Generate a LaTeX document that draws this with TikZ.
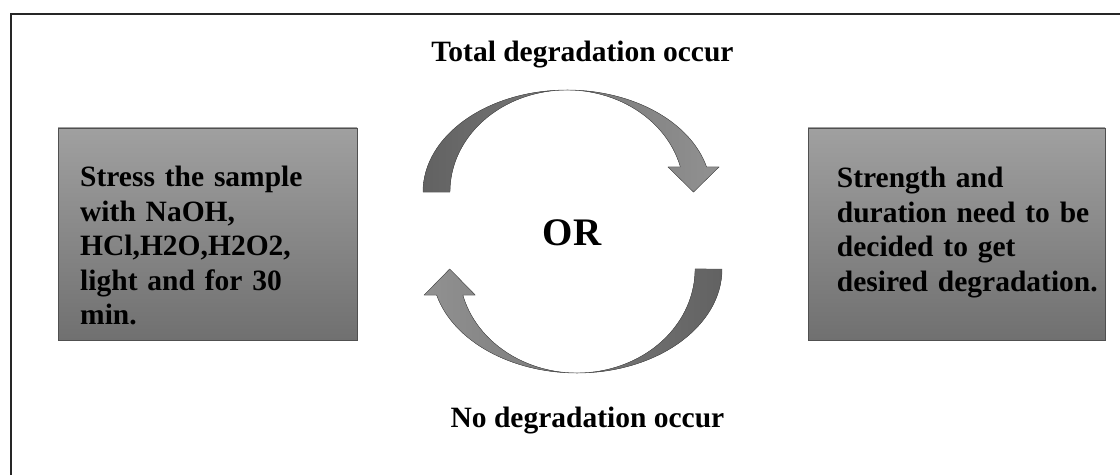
\documentclass[tikz,border=0pt]{standalone}
\usepackage{fontspec}
\setmainfont{Liberation Serif}
\usepackage{xcolor}
\usepackage{tikz}
\definecolor{boxtop}{RGB}{160,160,160}
\definecolor{boxbot}{RGB}{112,112,112}
\definecolor{arrdark}{RGB}{98,98,98}
\definecolor{arrlight}{RGB}{145,145,145}
\definecolor{edgegray}{RGB}{80,80,80}

\begin{document}
\begin{tikzpicture}[x=1pt,y=1pt,
  grbox/.style={draw=edgegray,line width=0.8pt,top color=boxtop,bottom color=boxbot,inner sep=0pt},
  boxtext/.style={anchor=base west,align=left,inner sep=0pt,font=\bfseries\fontsize{29.5}{34.5}\selectfont},
  captext/.style={anchor=base,inner sep=0pt,font=\bfseries\fontsize{29.5}{34}\selectfont},
  curvearr/.style={draw=edgegray,line width=0.4pt}]
  \useasboundingbox (0,0) rectangle (1120,475);
  \draw[line width=2pt,black!85] (11,0) -- (11,461) -- (1120,461);
  % the two grey boxes
  \node[grbox,minimum width=299pt,minimum height=212pt] (stress) at (207.5,241) {};
  \node[grbox,minimum width=297pt,minimum height=212pt] (strength) at (956.5,241) {};
  \node[boxtext,text width=270pt] (stresstxt) at (80,288.3)
    {Stress the sample\\with NaOH,\\HCl,H2O,H2O2,\\light and for 30\\min.};
  \node[boxtext,text width=270pt] (strengthtxt) at (836.7,287.3)
    {Strength and\\duration need to be\\decided to get\\desired degradation.};
  % labels
  \node[captext] (total) at (582.5,413) {Total degradation occur};
  \node[captext] (nodeg) at (587.5,48) {No degradation occur};
  \node[anchor=base,inner sep=0pt,font=\bfseries\fontsize{39}{44}\selectfont] (or) at (572,230) {OR};
  % curved arrows
  \coordinate (topc) at (567,283);
  \coordinate (botc) at (577,206);
  \filldraw[curvearr,left color=arrdark,right color=arrlight]
    ([xshift=-144pt]topc) arc[start angle=180,end angle=14.19,x radius=144,y radius=102]
    -- (719,308) -- (693.5,283) -- (668,308) -- (680.4,308)
    arc[start angle=14.19,end angle=180,x radius=117,y radius=102] -- cycle;
  \filldraw[curvearr,left color=arrlight,right color=arrdark]
    ([xshift=145pt]botc) arc[start angle=360,end angle=194.48,x radius=145,y radius=104]
    -- (424.2,180) -- (449.7,206) -- (475.2,180) -- (462.8,180)
    arc[start angle=194.48,end angle=360,x radius=118,y radius=104] -- cycle;
\end{tikzpicture}
\end{document}
